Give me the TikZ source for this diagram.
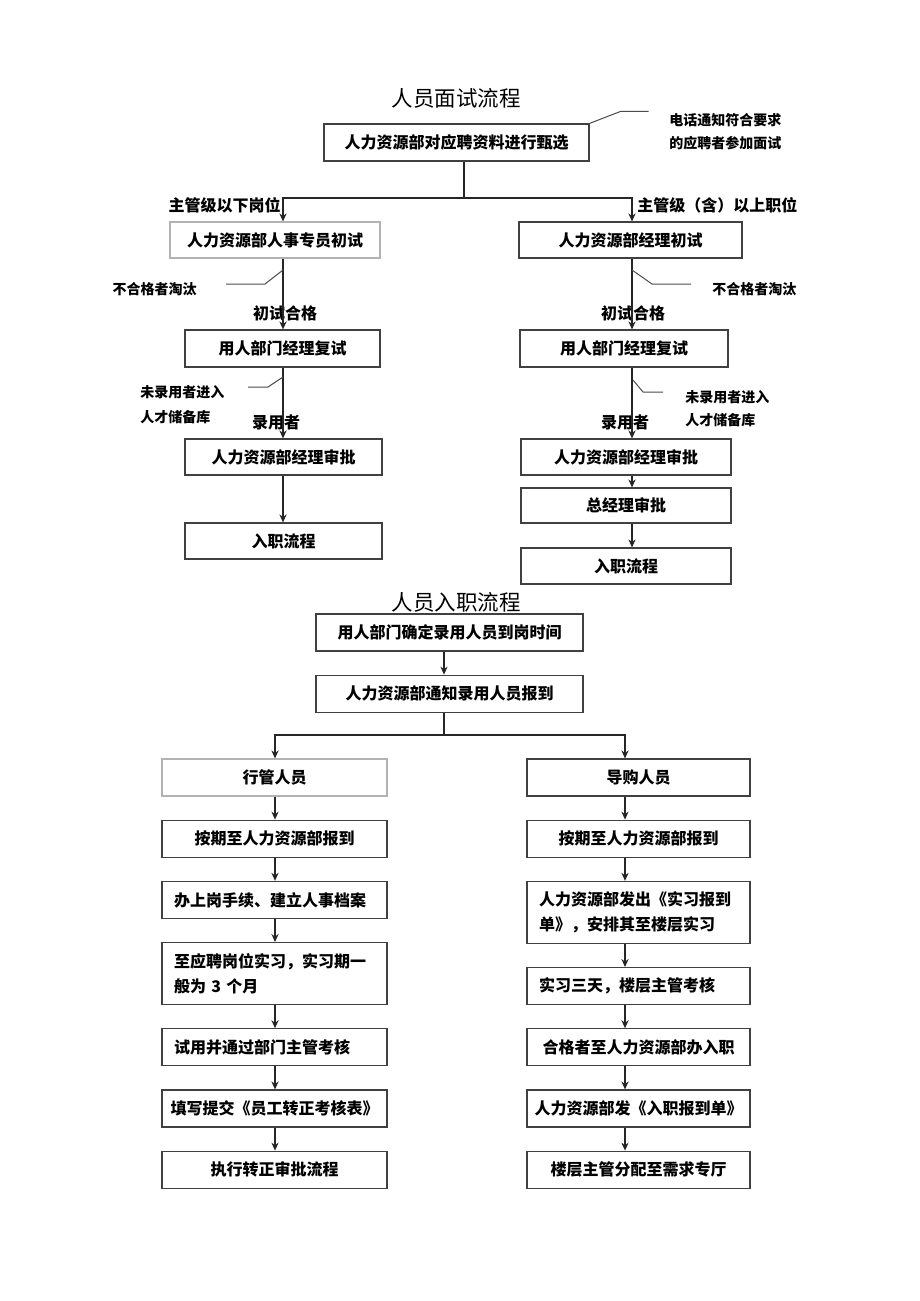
\documentclass[tikz,border=0pt]{standalone}
\usepackage{fontspec}
\newfontfamily\cjk{Noto Sans CJK SC}
\usetikzlibrary{positioning, arrows.meta}

\begin{document}
\begin{tikzpicture}[x=0.5pt, y=-0.5pt, node distance=11.5pt, >={Stealth[length=4pt, width=3.6pt]}]
	\tikzstyle{stage} = [rectangle, draw=black!75, line width=0.6pt, align=center, inner sep=0pt, font=\cjk\bfseries\fontsize{8}{12.5}\selectfont];
	\tikzstyle{stagel} = [stage, align=left, inner xsep=6pt];
	\tikzstyle{pale} = [draw=black!30];
	\tikzstyle{lane} = [minimum width=112.5pt, minimum height=18.5pt];
	\tikzstyle{laneR} = [minimum width=111.5pt, minimum height=18.5pt];
	\tikzstyle{note} = [align=left, inner sep=0pt, font=\cjk\bfseries\fontsize{7}{11.5}\selectfont];
	\tikzstyle{tag} = [inner sep=0pt, font=\cjk\bfseries\fontsize{8}{10}\selectfont];
	\tikzstyle{heading} = [inner sep=0pt, font=\cjk\fontsize{10.75}{13}\selectfont];
	\tikzstyle{flow} = [draw=black!85, line width=0.6pt, every edge/.append style={->}];
	\tikzstyle{lead} = [draw=black!70, line width=0.5pt];

	\useasboundingbox (0,0) rectangle (920,1301);
	\fill[white] (0,0) rectangle (920,1301);

	% interview
	\node[heading](title1) at (456,98){人员面试流程};
	\node[stage, minimum width=132.5pt, minimum height=18.5pt](screen) at (456.5,142.5){人力资源部对应聘资料进行甄选};
	\node[note, anchor=west](phone) at (669,131.5){电话通知符合要求\\的应聘者参加面试};
	\node[tag, anchor=east](lowpost) at (281,205){主管级以下岗位};
	\node[tag, anchor=west](highpost) at (637,205){主管级（含）以上职位};
	\node[stage, pale, minimum width=105pt, minimum height=18pt](hrfirst) at (275,240){人力资源部人事专员初试};
	\node[stage, minimum width=111.5pt, minimum height=18pt](mgrfirst) at (630.5,240){人力资源部经理初试};
	\node[note, anchor=east](outL) at (197,289){不合格者淘汰};
	\node[note, anchor=west](outR) at (712,289){不合格者淘汰};
	\node[tag](passL) at (285,313){初试合格};
	\node[tag](passR) at (633,313){初试合格};
	\node[stage, minimum width=97.5pt, minimum height=18.5pt](deptL) at (282.5,348.5){用人部门经理复试};
	\node[stage, minimum width=104pt, minimum height=18.5pt](deptR) at (624,348.5){用人部门经理复试};
	\node[note, anchor=west, font=\cjk\bfseries\fontsize{7}{12.5}\selectfont](poolL) at (140,405){未录用者进入\\人才储备库};
	\node[note, anchor=west](poolR) at (685,409){未录用者进入\\人才储备库};
	\node[tag](hireL) at (276,422){录用者};
	\node[tag](hireR) at (625,422){录用者};
	\node[stage, minimum width=98.5pt, minimum height=18pt](approveL) at (283.5,457){人力资源部经理审批};
	\node[stage, minimum width=98.5pt, minimum height=18pt](entryL) at (283.5,541){入职流程};
	\node[stage, minimum width=105pt, minimum height=18pt](approveR) at (626,457){人力资源部经理审批};
	\node[stage, minimum width=105pt, minimum height=17.5pt](gm) at (626,505.5){总经理审批};
	\node[stage, minimum width=105pt, minimum height=18pt](entryR) at (626,566){入职流程};

	\coordinate(fork) at (464,198);
	\coordinate(colL) at (283,0);
	\coordinate(colR) at (632,0);
	\coordinate(cutL) at (283,270);
	\coordinate(cutR) at (632,270);
	\coordinate(keepL) at (283,377);
	\coordinate(keepR) at (633,380);

	\draw[flow] (screen.south -| fork) -- (fork);
	\path[flow] (fork) edge[to path={-| (\tikztotarget)}] (hrfirst.north -| colL)
	(fork) edge[to path={-| (\tikztotarget)}] (mgrfirst.north -| colR)
	(hrfirst.south -| colL) edge (deptL.north -| colL)
	(mgrfirst.south -| colR) edge (deptR.north -| colR)
	(deptL.south -| colL) edge (approveL.north -| colL)
	(deptR.south -| colR) edge (approveR.north -| colR)
	(approveL.south -| colL) edge (entryL.north -| colL)
	(approveR.south -| colR) edge (gm.north -| colR)
	(gm.south -| colR) edge (entryR.north -| colR);

	\draw[lead] (screen.north east) -- ++(31,-12) -- ++(28,0);
	\draw[lead] (cutL) -- ++(-18,14) -- ++(-39,0);
	\draw[lead] (cutR) -- ++(20,14) -- ++(39,0);
	\draw[lead] (keepL) -- ++(-15,10) -- ++(-20,0);
	\draw[lead] (keepR) -- ++(10,12) -- ++(20,0);

	% onboarding
	\node[heading](title2) at (456,602){人员入职流程};
	\node[stage, minimum width=133.5pt, minimum height=18.5pt](confirm) at (449.5,632.5){用人部门确定录用人员到岗时间};
	\node[stage, minimum width=133.5pt, minimum height=18.5pt, below=of confirm](notify){人力资源部通知录用人员报到};
	\node[stage, pale, lane](admin) at (274.5,777.5){行管人员};
	\node[stage, laneR](guide) at (638.5,777.5){导购人员};

	\node[stage, lane, below=of admin](reportL){按期至人力资源部报到};
	\node[stagel, lane, text width=100.5pt, below=of reportL](files){办上岗手续、建立人事档案};
	\node[stagel, lane, text width=100.5pt, minimum height=31pt, below=of files](intern){至应聘岗位实习，实习期一\\般为 3 个月};
	\node[stagel, lane, text width=100.5pt, below=of intern](trial){试用并通过部门主管考核};
	\node[stage, lane, below=of trial](form){填写提交《员工转正考核表》};
	\node[stage, lane, below=of form](formal){执行转正审批流程};

	\node[stage, laneR, below=of guide](reportR){按期至人力资源部报到};
	\node[stagel, laneR, text width=99.5pt, minimum height=31pt, below=of reportR](sheet){人力资源部发出《实习报到\\单》，安排其至楼层实习};
	\node[stagel, laneR, text width=99.5pt, below=of sheet](floor){实习三天，楼层主管考核};
	\node[stage, laneR, below=of floor](onboard){合格者至人力资源部办入职};
	\node[stage, laneR, below=of onboard](slip){人力资源部发《入职报到单》};
	\node[stage, laneR, below=of slip](assign){楼层主管分配至需求专厅};

	\coordinate(colM) at (444,0);
	\coordinate(forkB) at (444,735);
	\coordinate(colL2) at (275,0);
	\coordinate(colR2) at (625,0);

	\draw[flow] (notify.south -| colM) -- (forkB);
	\path[flow] (confirm.south -| colM) edge (notify.north -| colM)
	(forkB) edge[to path={-| (\tikztotarget)}] (admin.north -| colL2)
	(forkB) edge[to path={-| (\tikztotarget)}] (guide.north -| colR2)
	(admin.south -| colL2) edge (reportL.north -| colL2)
	(reportL.south -| colL2) edge (files.north -| colL2)
	(files.south -| colL2) edge (intern.north -| colL2)
	(intern.south -| colL2) edge (trial.north -| colL2)
	(trial.south -| colL2) edge (form.north -| colL2)
	(form.south -| colL2) edge (formal.north -| colL2)
	(guide.south -| colR2) edge (reportR.north -| colR2)
	(reportR.south -| colR2) edge (sheet.north -| colR2)
	(sheet.south -| colR2) edge (floor.north -| colR2)
	(floor.south -| colR2) edge (onboard.north -| colR2)
	(onboard.south -| colR2) edge (slip.north -| colR2)
	(slip.south -| colR2) edge (assign.north -| colR2);
\end{tikzpicture}
\end{document}
